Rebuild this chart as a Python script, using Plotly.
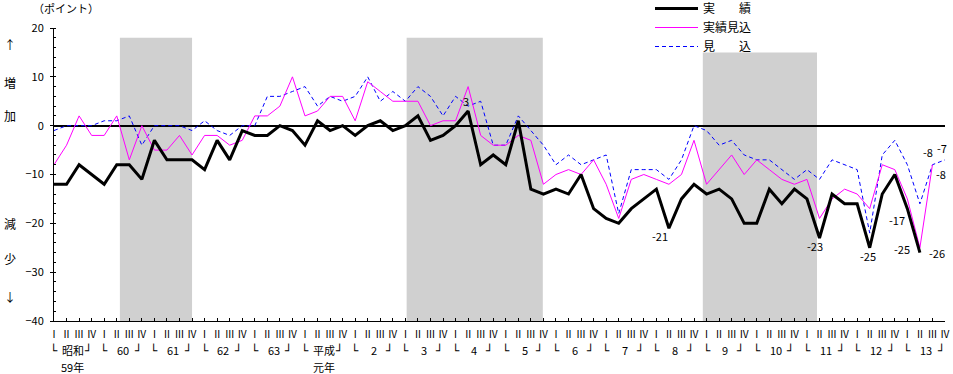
import plotly.graph_objects as go

# ---------------- data ----------------
quarter_labels = ["Ⅰ", "Ⅱ", "Ⅲ", "Ⅳ"]
year_labels = ["昭和", "60", "61", "62", "63", "平成", "2", "3", "4", "5", "6", "7",
               "8", "9", "10", "11", "12", "13"]
year_sub_labels = {0: "59年", 5: "元年"}

actual = [-12, -12, -8, -10, -12, -8, -8, -11, -3, -7, -7, -7, -9, -3, -7, -1,
          -2, -2, 0, -1, -4, 1, -1, 0, -2, 0, 1, -1, 0, 2, -3, -2,
          0, 3, -8, -6, -8, 1, -13, -14, -13, -14, -10, -17, -19, -20, -17, -15,
          -13, -21, -15, -12, -14, -13, -15, -20, -20, -13, -16, -13, -15, -23, -14, -16,
          -16, -25, -14, -10, -17, -26, None, None]
actual_estimate = [-8, -4, 2, -2, -2, 2, -7, 0, -5, -5, -2, -6, -2, -2, -4, -3,
                   2, 2, 4, 10, 2, 3, 6, 6, 1, 9, 7, 5, 5, 5, 0, 1,
                   1, 8, -2, -4, -4, -2, -3, -12, -10, -9, -10, -7, -12, -19, -11, -10,
                   -11, -12, -10, -3, -12, -9, -6, -10, -7, -9, -11, -12, -11, -19, -15, -13,
                   -14, -17, -8, -9, -15, -25, -8, None]
forecast = [-1, 0, 0, 0, 1, 1, 2, -4, 0, 0, 0, -1, 1, -1, -2, 0,
            0, 6, 6, 7, 8, 4, 6, 5, 6, 10, 5, 7, 5, 8, 6, 2,
            6, 4, 5, -4, -4, 2, -1, -4, -8, -6, -8, -7, -6, -18, -9, -9,
            -9, -11, -7, 0, -1, -4, -3, -6, -7, -7, -9, -11, -9, -11, -7, -8,
            -9, -22, -6, -3, -8, -16, -8, -7]

# recession periods (start index, end index, top value)
shade_periods = [(5.25, 11.0, 18), (28.1, 38.95, 18), (51.7, 60.8, 15)]

# data labels: (series, index)
labelled_points = [("actual", 33), ("actual", 49), ("actual", 61), ("actual", 65),
                   ("actual", 68), ("estimate", 69), ("actual", 69),
                   ("forecast", 70), ("forecast", 71), ("estimate", 70)]

# ---------------- layout helpers ----------------
W_FIG, H_FIG = 953, 374
L, T, R, B = 54, 28, 8, 53
PW = W_FIG - L - R
PH = H_FIG - T - B


def px(x):
    return (x - L) / PW


def py(y):
    return 1 - (y - T) / PH


FONT = "Noto Sans CJK JP, Noto Sans, DejaVu Sans"
n = len(forecast)
xs = list(range(n))

fig = go.Figure()

fig.add_trace(go.Scatter(x=xs, y=forecast, mode="lines", name="見　　込",
                         line=dict(color="#0000ff", width=1, dash="4px,3px"),
                         legendrank=3))
fig.add_trace(go.Scatter(x=xs, y=actual_estimate, mode="lines", name="実績見込",
                         line=dict(color="#ff00ff", width=1), legendrank=2))
fig.add_trace(go.Scatter(x=xs, y=actual, mode="lines", name="実　　績",
                         line=dict(color="#000000", width=3), legendrank=1))

shapes = []
for s, e, top in shade_periods:
    shapes.append(dict(type="rect", xref="x", yref="y", x0=s, x1=e, y0=-40, y1=top,
                       fillcolor="#d0d0d0", line=dict(width=0), layer="below"))

annotations = []
# left side vertical labels
for txt, y in [("↑", 44), ("増", 82), ("加", 115), ("減", 223), ("少", 258), ("↓", 296)]:
    annotations.append(dict(text=txt, xref="paper", yref="paper", x=px(10), y=py(y),
                            showarrow=False, xanchor="center", yanchor="middle",
                            font=dict(size=12, family=FONT, color="black")))
annotations.append(dict(text="（ポイント）", xref="paper", yref="paper", x=px(66), y=py(8),
                        showarrow=False, xanchor="center", yanchor="middle",
                        font=dict(size=11, family=FONT, color="black")))

# year row
for k, lab in enumerate(year_labels):
    base = 4 * k
    annotations.append(dict(text="└", xref="x", yref="paper", x=base, y=py(350),
                            showarrow=False, xanchor="center", yanchor="middle", xshift=0,
                            font=dict(size=12, family="DejaVu Sans Mono", color="black")))
    annotations.append(dict(text="┘", xref="x", yref="paper", x=base + 3, y=py(350),
                            showarrow=False, xanchor="center", yanchor="middle", xshift=-4,
                            font=dict(size=12, family="DejaVu Sans Mono", color="black")))
    annotations.append(dict(text=lab, xref="x", yref="paper", x=base + 1.5, y=py(350),
                            showarrow=False, xanchor="center", yanchor="middle",
                            font=dict(size=11, family=FONT, color="black")))
    if k in year_sub_labels:
        annotations.append(dict(text=year_sub_labels[k], xref="x", yref="paper",
                                x=base + 1.5, y=py(367), showarrow=False,
                                xanchor="center", yanchor="middle",
                                font=dict(size=11, family=FONT, color="black")))

# data labels
series_map = {"actual": actual, "estimate": actual_estimate, "forecast": forecast}
label_offsets = {("actual", 33): (-2, 10), ("actual", 49): (-9, -8),
                 ("actual", 61): (-5, -8), ("actual", 65): (-2, -8),
                 ("actual", 68): (-10, -11), ("estimate", 69): (-18, -1),
                 ("actual", 69): (17, 0), ("forecast", 70): (-4, 13),
                 ("forecast", 71): (-3, 12), ("estimate", 70): (9, -9)}
for key in labelled_points:
    s, i = key
    v = series_map[s][i]
    dx, dy = label_offsets[key]
    annotations.append(dict(text=str(v), xref="x", yref="y", x=i, y=v, showarrow=False,
                            xanchor="center", yanchor="middle", xshift=dx, yshift=dy,
                            font=dict(size=11, family=FONT, color="black")))

fig.update_layout(
    width=W_FIG, height=H_FIG,
    margin=dict(l=L, r=R, t=T, b=B, autoexpand=False),
    paper_bgcolor="white", plot_bgcolor="white",
    font=dict(family=FONT, color="black", size=11),
    shapes=shapes, annotations=annotations,
    showlegend=True,
    legend=dict(x=px(650), y=py(-6), xanchor="left", yanchor="top",
                font=dict(size=12, family=FONT), itemwidth=43,
                bgcolor="rgba(0,0,0,0)", tracegroupgap=0),
    xaxis=dict(range=[0, n - 1], tickmode="array", tickvals=xs,
               ticktext=[quarter_labels[i % 4] for i in xs],
               ticks="inside", ticklen=3, tickcolor="black",
               showline=True, linecolor="black", linewidth=1,
               showgrid=False, zeroline=False, tickangle=0,
               tickfont=dict(size=10, family=FONT), ticklabelstandoff=4),
    yaxis=dict(range=[-40, 20], tickvals=[-40, -30, -20, -10, 0, 10, 20],
               ticks="outside", ticklen=3, tickcolor="black",
               minor=dict(dtick=2, ticks="inside", ticklen=2, tickcolor="black"),
               showline=True, linecolor="black", linewidth=1,
               showgrid=False, zeroline=True, zerolinecolor="black", zerolinewidth=1.5,
               tickfont=dict(size=11, family=FONT), ticklabelstandoff=4),
)

fig.write_html("out.html",
               config={"displayModeBar": False},
               post_script="document.body.style.margin='0';"
                           "document.body.style.overflow='hidden';")
